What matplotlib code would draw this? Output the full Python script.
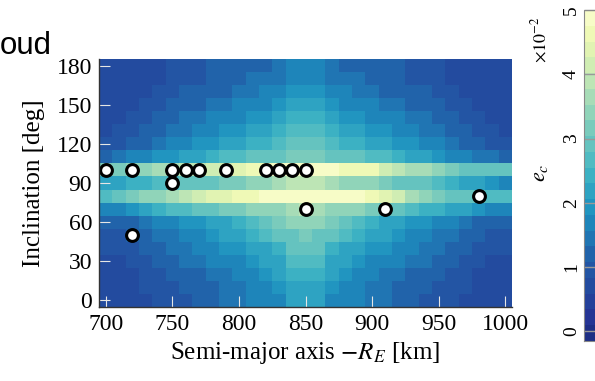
import numpy as np
import matplotlib
matplotlib.use("Agg")
import matplotlib.pyplot as plt
from matplotlib.colors import ListedColormap, BoundaryNorm

plt.rcParams["font.family"] = "Liberation Serif"
plt.rcParams["mathtext.fontset"] = "stix"

# grid axes
sma = [700, 710, 720, 730, 740, 750, 760, 770, 780, 790, 800, 810, 820, 830, 840, 850,
       860, 870, 880, 890, 900, 910, 920, 930, 940, 950, 960, 970, 980, 990, 1000]
inclination = [0, 10, 20, 30, 40, 50, 60, 70, 80, 90, 100, 110, 120, 130, 140, 150, 160, 170, 180]

# e_c in units of 1e-2, one row per inclination (0 -> 180)
ec = [
    [0.6, 0.7, 0.8, 0.8, 0.9, 1.0, 1.0, 1.2, 1.2, 1.4, 1.4, 1.6, 1.7, 1.8, 2.2, 2.2, 2.2, 1.8, 1.7, 1.6, 1.4, 1.4, 1.2, 1.2, 1.0, 1.0, 0.9, 0.8, 0.8, 0.7, 0.6],
    [0.7, 0.7, 0.8, 0.9, 0.9, 1.0, 1.1, 1.2, 1.3, 1.4, 1.5, 1.7, 1.8, 1.9, 2.3, 2.3, 2.3, 1.9, 1.8, 1.7, 1.5, 1.4, 1.3, 1.2, 1.1, 1.0, 0.9, 0.9, 0.8, 0.7, 0.7],
    [0.7, 0.8, 0.8, 0.9, 1.0, 1.1, 1.2, 1.3, 1.4, 1.5, 1.6, 1.8, 1.9, 2.1, 2.4, 2.4, 2.4, 2.1, 1.9, 1.8, 1.6, 1.5, 1.4, 1.3, 1.2, 1.1, 1.0, 0.9, 0.8, 0.8, 0.7],
    [0.8, 0.8, 0.9, 1.0, 1.1, 1.2, 1.4, 1.5, 1.6, 1.7, 1.8, 2.0, 2.1, 2.3, 2.6, 2.6, 2.6, 2.3, 2.1, 2.0, 1.8, 1.7, 1.6, 1.5, 1.4, 1.2, 1.1, 1.0, 0.9, 0.8, 0.8],
    [0.9, 0.9, 1.0, 1.1, 1.2, 1.4, 1.5, 1.6, 1.8, 1.9, 2.0, 2.2, 2.3, 2.5, 2.8, 2.8, 2.8, 2.5, 2.3, 2.2, 2.0, 1.9, 1.8, 1.6, 1.5, 1.4, 1.2, 1.1, 1.0, 0.9, 0.9],
    [1.0, 1.0, 1.1, 1.2, 1.4, 1.5, 1.7, 1.8, 2.0, 2.1, 2.2, 2.4, 2.6, 2.8, 3.0, 3.1, 3.0, 2.8, 2.6, 2.4, 2.2, 2.1, 2.0, 1.8, 1.7, 1.5, 1.4, 1.2, 1.1, 1.0, 1.0],
    [1.2, 1.2, 1.3, 1.4, 1.6, 1.7, 1.9, 2.0, 2.2, 2.3, 2.5, 2.7, 2.9, 3.1, 3.3, 3.4, 3.3, 3.1, 2.9, 2.7, 2.5, 2.3, 2.2, 2.0, 1.9, 1.7, 1.6, 1.4, 1.3, 1.2, 1.2],
    [1.6, 1.7, 2.0, 2.2, 2.4, 2.6, 2.7, 2.9, 3.0, 3.1, 3.2, 3.3, 3.4, 3.5, 3.7, 3.8, 3.7, 3.5, 3.4, 3.3, 3.2, 3.0, 2.9, 2.7, 2.5, 2.4, 2.2, 2.1, 1.9, 1.8, 1.6],
    [2.7, 3.0, 3.1, 3.3, 3.5, 3.7, 3.9, 4.1, 4.3, 4.5, 4.6, 4.7, 4.8, 4.9, 5.0, 5.0, 5.0, 4.9, 4.9, 4.8, 4.7, 4.5, 4.1, 3.7, 3.4, 3.2, 3.0, 2.9, 2.8, 2.7, 2.6],
    [2.1, 2.3, 2.4, 2.5, 2.6, 2.7, 2.8, 2.9, 3.0, 3.1, 3.2, 3.3, 3.5, 3.6, 3.8, 3.8, 3.8, 3.7, 3.5, 3.4, 3.3, 3.1, 3.0, 2.9, 2.8, 2.6, 2.5, 2.3, 2.1, 1.9, 1.8],
    [3.2, 3.2, 3.4, 3.5, 3.6, 3.7, 3.8, 3.9, 4.1, 4.2, 4.4, 4.6, 4.7, 4.8, 4.8, 4.8, 4.8, 4.8, 4.7, 4.7, 4.6, 4.2, 3.9, 3.7, 3.6, 3.3, 3.2, 3.0, 2.9, 3.0, 2.8],
    [1.3, 1.4, 1.6, 1.8, 1.9, 2.0, 2.2, 2.3, 2.5, 2.6, 2.7, 2.8, 2.9, 3.0, 3.2, 3.2, 3.2, 3.0, 2.9, 2.8, 2.7, 2.6, 2.4, 2.3, 2.1, 2.0, 1.8, 1.7, 1.5, 1.4, 1.2],
    [0.9, 1.0, 1.1, 1.3, 1.5, 1.6, 1.8, 1.9, 2.0, 2.2, 2.3, 2.4, 2.5, 2.6, 2.9, 2.9, 2.9, 2.6, 2.5, 2.4, 2.3, 2.2, 2.0, 1.9, 1.8, 1.6, 1.5, 1.3, 1.1, 1.0, 0.9],
    [0.8, 0.9, 1.0, 1.1, 1.2, 1.4, 1.5, 1.6, 1.8, 1.9, 2.0, 2.1, 2.2, 2.4, 2.7, 2.7, 2.7, 2.4, 2.2, 2.1, 2.0, 1.9, 1.8, 1.6, 1.5, 1.4, 1.2, 1.1, 1.0, 0.9, 0.8],
    [0.8, 0.8, 0.9, 1.0, 1.1, 1.3, 1.4, 1.5, 1.6, 1.7, 1.8, 1.9, 2.0, 2.2, 2.5, 2.5, 2.5, 2.2, 2.0, 1.9, 1.8, 1.7, 1.6, 1.5, 1.4, 1.3, 1.1, 1.0, 0.9, 0.8, 0.8],
    [0.7, 0.7, 0.8, 0.9, 1.0, 1.1, 1.2, 1.3, 1.4, 1.5, 1.6, 1.7, 1.8, 2.0, 2.3, 2.3, 2.3, 2.0, 1.8, 1.7, 1.6, 1.5, 1.4, 1.3, 1.2, 1.1, 1.0, 0.9, 0.8, 0.7, 0.7],
    [0.6, 0.7, 0.7, 0.8, 0.9, 1.0, 1.1, 1.2, 1.3, 1.3, 1.4, 1.5, 1.6, 1.7, 2.0, 2.0, 2.0, 1.7, 1.6, 1.5, 1.4, 1.3, 1.3, 1.2, 1.1, 1.0, 0.9, 0.8, 0.7, 0.7, 0.6],
    [0.6, 0.6, 0.7, 0.8, 0.8, 0.9, 1.0, 1.0, 1.1, 1.2, 1.3, 1.4, 1.4, 1.5, 1.8, 1.8, 1.8, 1.5, 1.4, 1.4, 1.3, 1.2, 1.1, 1.0, 1.0, 0.9, 0.8, 0.8, 0.7, 0.6, 0.6],
    [0.6, 0.6, 0.7, 0.8, 0.8, 0.9, 0.9, 1.0, 1.1, 1.1, 1.2, 1.3, 1.3, 1.4, 1.7, 1.7, 1.7, 1.4, 1.3, 1.3, 1.2, 1.1, 1.1, 1.0, 0.9, 0.9, 0.8, 0.8, 0.7, 0.6, 0.6],
]

# cloud of selected orbits
pts_sma = [700, 720, 750, 760, 770, 790, 820, 830, 840, 850, 750, 720, 850, 910, 980]
pts_inc = [100, 100, 100, 100, 100, 100, 100, 100, 100, 100, 90, 50, 70, 70, 80]

cbar_ticks = [0, 1, 2, 3, 4, 5]

# discrete colormap built from YlGnBu
vmin, vmax, nlev = -0.15, 5.0, 21
edges = np.linspace(vmin, vmax, nlev + 1)
mids = 0.5 * (edges[:-1] + edges[1:])
pos = np.interp(mids, [-0.15, 0, 1, 2, 3, 4, 5], [0.92, 0.9, 0.77, 0.6, 0.41, 0.25, 0.03])
cmap = ListedColormap(plt.get_cmap("YlGnBu")(pos))
norm = BoundaryNorm(edges, cmap.N)

fig = plt.figure(figsize=(5.95, 3.81), dpi=100)
ax = fig.add_axes([99 / 595, 74 / 381, 413 / 595, 248 / 381])

mesh = ax.pcolormesh(sma, inclination, np.array(ec), cmap=cmap, norm=norm, shading="nearest")
ax.plot(pts_sma, pts_inc, "o", ms=8.5, mfc="white", mec="black", mew=2.2, ls="none")

ax.set_xticks([700, 750, 800, 850, 900, 950, 1000])
ax.set_yticks([0, 30, 60, 90, 120, 150, 180])
ax.tick_params(direction="in", length=8, width=0.8, color="#e6e6e6", labelsize=17, pad=5)
for s in ["top", "right"]:
    ax.spines[s].set_visible(False)
for s in ["left", "bottom"]:
    ax.spines[s].set_color("#333333")
    ax.spines[s].set_linewidth(1.0)

ax.set_xlabel(r"Semi-major axis $-R_E$ [km]", fontsize=18)
ax.set_ylabel("Inclination [deg]", fontsize=18)
ax.xaxis.set_label_coords(0.5, -0.135)
ax.yaxis.set_label_coords(-0.13, 0.5)

# colorbar, partly outside the figure
cax = fig.add_axes([584 / 595, 40 / 381, 0.06, 331 / 381])
cb = fig.colorbar(mesh, cax=cax, ticks=cbar_ticks)
cb.minorticks_off()
cb.outline.set_edgecolor("#888888")
cb.outline.set_linewidth(0.8)
cax.yaxis.set_ticks_position("left")
cax.tick_params(direction="in", length=10, width=1.0, color="#999999", labelsize=14, pad=3)
for lab in cax.get_yticklabels():
    lab.set_rotation(90)
    lab.set_va("center")
fig.text(540 / 595, 1 - 40 / 381, r"$\times10^{-2}$", rotation=90, ha="center", va="center", fontsize=13)
fig.text(541 / 595, 1 - 173 / 381, r"$e_c$", rotation=90, ha="center", va="center", fontsize=16)

fig.text(0.0, 1 - 54 / 381, "oud", fontsize=22.5, family="Liberation Sans", va="baseline", ha="left")

fig.savefig("out.png", dpi=100)
